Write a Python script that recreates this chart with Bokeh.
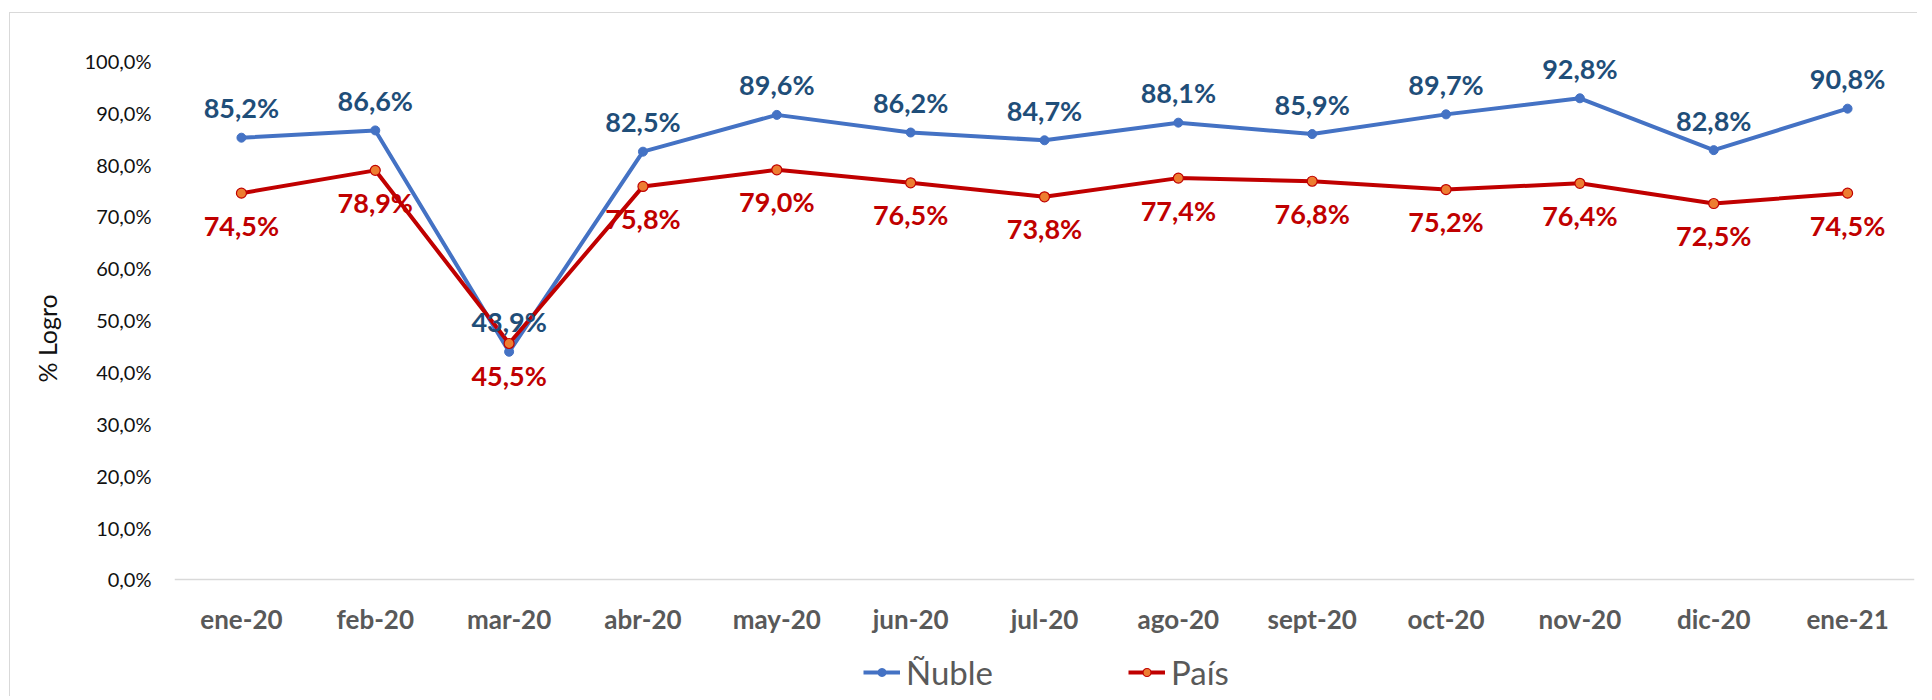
from bokeh.plotting import figure
from bokeh.models import (ColumnDataSource, FixedTicker, Legend, LegendItem, Title)
from bokeh.core.properties import value
from bokeh.embed import file_html
from bokeh.resources import INLINE

months = ["ene-20", "feb-20", "mar-20", "abr-20", "may-20", "jun-20", "jul-20",
          "ago-20", "sept-20", "oct-20", "nov-20", "dic-20", "ene-21"]
nuble = [85.2, 86.6, 43.9, 82.5, 89.6, 86.2, 84.7, 88.1, 85.9, 89.7, 92.8, 82.8, 90.8]
pais = [74.5, 78.9, 45.5, 75.8, 79.0, 76.5, 73.8, 77.4, 76.8, 75.2, 76.4, 72.5, 74.5]
y_ticks = [0, 10, 20, 30, 40, 50, 60, 70, 80, 90, 100]


def fmt(v):
    return f"{v:.1f}%".replace(".", ",")


FONT = "Lato"
BLUE = "#4472C4"
BLUE_TXT = "#1F4E79"
RED = "#C00000"
ORANGE = "#ED7D31"

src = ColumnDataSource(dict(
    m=months, n=nuble, p=pais,
    nl=[fmt(v) for v in nuble], pl=[fmt(v) for v in pais],
))

# frame reaches the bottom of the canvas so the legend (drawn inside it) is visible
p = figure(frame_width=1740, frame_height=677, x_range=months, y_range=(-22.6, 108.0),
           output_backend="svg", toolbar_location=None,
           min_border_left=163, min_border_right=3, min_border_top=6,
           min_border_bottom=0,
           styles={"margin-top": "12px", "margin-left": "9px",
                   "border-top": "1px solid #D9D9D9",
                   "border-left": "1px solid #D9D9D9"})
p.x_range.range_padding = 0
p.outline_line_color = None
p.xgrid.grid_line_color = None
p.ygrid.grid_line_color = None
p.background_fill_color = "white"
p.border_fill_color = "white"

# y axis
p.yaxis.ticker = FixedTicker(ticks=y_ticks)
p.yaxis.major_label_overrides = {t: fmt(t) for t in y_ticks}
p.yaxis.axis_line_color = None
p.yaxis.major_tick_line_color = None
p.yaxis.minor_tick_line_color = None
p.yaxis.major_tick_out = 0
p.yaxis.major_label_standoff = 23
p.yaxis.major_label_text_font = FONT
p.yaxis.major_label_text_font_size = "20px"
p.yaxis.major_label_text_color = "#111111"

# x axis, fixed at 0 %
p.xaxis.fixed_location = 0
p.xaxis.axis_line_color = "#D9D9D9"
p.xaxis.axis_line_width = 1.5
p.xaxis.major_tick_line_color = None
p.xaxis.minor_tick_line_color = None
p.xaxis.major_tick_out = 0
p.xaxis.major_label_standoff = 24
p.xaxis.major_label_text_font = FONT
p.xaxis.major_label_text_font_style = "bold"
p.xaxis.major_label_text_font_size = "26px"
p.xaxis.major_label_text_color = "#595959"

# lines
r_n = p.line("m", "n", source=src, line_color=BLUE, line_width=4)
r_nm = p.scatter("m", "n", source=src, size=9, fill_color=BLUE, line_color=BLUE)
r_p = p.line("m", "p", source=src, line_color=RED, line_width=4)
r_pm = p.scatter("m", "p", source=src, size=10, fill_color=ORANGE, line_color=RED,
                 line_width=1.2)

# data labels
p.text("m", "n", text="nl", source=src, text_align="center", text_baseline="middle",
       y_offset=-30, text_font=value(FONT), text_font_style="bold",
       text_font_size="27px", text_color=BLUE_TXT)
p.text("m", "p", text="pl", source=src, text_align="center", text_baseline="middle",
       y_offset=32, text_font=value(FONT), text_font_style="bold",
       text_font_size="27px", text_color=RED)

# axis title
p.add_layout(Title(text="% Logro", align="left", offset=314, standoff=39,
                   text_font=FONT, text_font_size="25px", text_font_style="normal",
                   text_color="#111111"), "left")

legend = Legend(items=[LegendItem(label="Ñuble", renderers=[r_n, r_nm]),
                       LegendItem(label="País", renderers=[r_p, r_pm])],
                orientation="horizontal", location=(689, 4),
                glyph_width=37, glyph_height=20, label_standoff=6, spacing=135,
                padding=0, margin=0, border_line_color=None,
                background_fill_alpha=0,
                label_text_font=FONT, label_text_font_size="33px",
                label_text_color="#595959")
p.add_layout(legend, "center")

open("out.html", "w").write(file_html(p, INLINE))
